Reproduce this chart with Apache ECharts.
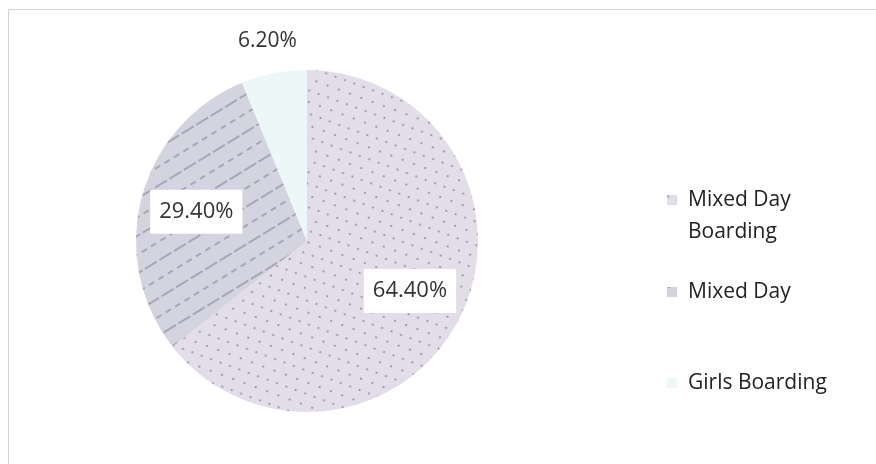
<!DOCTYPE html>
<html>
<head>
<meta charset="utf-8">
<title>School type share</title>
<script src="https://cdn.jsdelivr.net/npm/echarts@6/dist/echarts.min.js"></script>
<style>
  html, body { margin: 0; padding: 0; background: #fff; }
  #container { width: 876px; height: 464px; }
</style>
</head>
<body>
<div id="container"></div>
<script>
// data
const categories = ['Mixed Day Boarding', 'Mixed Day', 'Girls Boarding'];
const shares = [64.4, 29.4, 6.2];

// pale scan tones, one per slice
const sliceColors = ['#e2dde9', '#d4d3e0', '#edf7f8'];
const sliceDecals = [
    { symbol: 'circle', symbolSize: 1, color: 'rgba(45,50,65,0.5)', dashArrayX: [[2, 10], [3, 7]], dashArrayY: [2, 9], rotation: 0.35 },
    { symbol: 'rect', symbolSize: 1, color: 'rgba(50,50,75,0.28)', dashArrayX: [[14, 3], [6, 5]], dashArrayY: [2, 14], rotation: -0.55 },
    null
];

const CENTER = [307, 241];
const R = 171;
const FONT = '"Open Sans", "DejaVu Sans", sans-serif';

function pct(p) {
    return p.value.toFixed(2) + '%';
}

// base pie that carries the fills
const fills = categories.map(function (name, i) {
    const item = { name: name, value: shares[i], itemStyle: { color: sliceColors[i] } };
    if (sliceDecals[i]) item.itemStyle.decal = sliceDecals[i];
    return item;
});

// transparent ring so the inner labels sit further out than mid-radius
const innerLabels = categories.map(function (name, i) {
    return {
        name: name, value: shares[i],
        label: { show: i < 2 }
    };
});

// thin ring outside the pie for the small slice label
const outerLabels = categories.map(function (name, i) {
    return {
        name: name, value: shares[i],
        label: { show: i === 2 }
    };
});

const legendText = { fontFamily: FONT, fontSize: 21, color: '#222', lineHeight: 32, padding: [0, 0, 0, 6] };

function legendFor(name, top, formatter) {
    return {
        orient: 'vertical', left: 662, top: top,
        itemWidth: 10, itemHeight: 10, icon: 'rect',
        selectedMode: false,
        data: [name],
        formatter: formatter,
        textStyle: legendText
    };
}

const chart = echarts.init(document.getElementById('container'), null, { renderer: 'canvas' });

chart.setOption({
    backgroundColor: '#fff',
    animation: false,
    graphic: [{
        type: 'rect', silent: true, z: -1,
        shape: { x: 8.5, y: 9.5, width: 900, height: 500 },
        style: { fill: 'none', stroke: '#d4d4d4', lineWidth: 1 }
    }],
    legend: [
        legendFor(categories[0], 147, function () { return ' \nMixed Day\nBoarding'; }),
        legendFor(categories[1], 271),
        legendFor(categories[2], 362)
    ],
    series: [{
        type: 'pie',
        center: CENTER,
        radius: [0, R],
        startAngle: 90,
        silent: true,
        label: { show: false },
        labelLine: { show: false },
        emphasis: { disabled: true },
        data: fills
    }, {
        type: 'pie',
        center: CENTER,
        radius: [52, R],
        startAngle: 90,
        silent: true,
        itemStyle: { color: 'rgba(0,0,0,0)' },
        label: {
            position: 'inside', formatter: pct,
            fontFamily: FONT, fontSize: 22, color: '#333',
            backgroundColor: '#fff', padding: [11, 9]
        },
        labelLine: { show: false },
        emphasis: { disabled: true },
        data: innerLabels
    }, {
        type: 'pie',
        center: CENTER,
        radius: [R + 12, R + 48],
        startAngle: 90,
        silent: true,
        itemStyle: { color: 'rgba(0,0,0,0)' },
        label: {
            position: 'inside', formatter: pct,
            fontFamily: FONT, fontSize: 21, color: '#333'
        },
        labelLine: { show: false },
        emphasis: { disabled: true },
        data: outerLabels
    }]
});
</script>
</body>
</html>
